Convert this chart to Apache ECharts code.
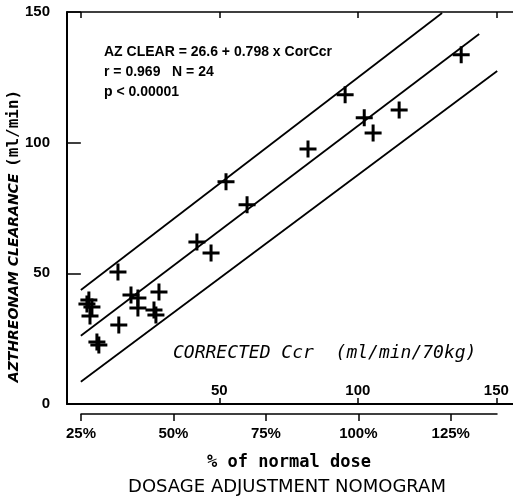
<!DOCTYPE html>
<html>
<head>
<meta charset="utf-8">
<script src="https://cdn.jsdelivr.net/npm/echarts@6/dist/echarts.min.js"></script>
<style>
html, body { margin: 0; padding: 0; background: #fff; }
#main { width: 513px; height: 497px; }
</style>
</head>
<body>
<div id="main"></div>
<script>
// corrected creatinine clearance (ml/min/70kg) vs aztreonam clearance (ml/min)
var ccr = [137.3, 95.4, 102.3, 105.5, 114.9, 82.0, 52.4, 60.0, 41.9, 47.0, 13.4, 18.1,
	20.6, 20.6, 28.2, 26.4, 27.1, 13.7, 2.9, 4.0, 3.3, 2.2, 5.8, 6.5];
var clearance = [133.6, 118.3, 109.5, 103.7, 112.5, 97.6, 85.0, 76.2, 62.0, 57.8, 50.5, 41.7,
	40.6, 36.7, 42.9, 36.0, 34.1, 30.2, 39.8, 37.1, 33.7, 38.3, 23.7, 22.6];
// regression line and its band, end points
var upperBand = [[0, 43.6], [130.4, 149.6]];
var fitLine = [[0, 26.1], [143.8, 141.6]];
var lowerBand = [[0, 8.5], [150.3, 127.4]];
var ccrLabels = [50, 100, 150];
var topTicks = [0, 50, 100, 150];
var doseTicks = [25, 50, 75, 100, 125];

var black = '#000';
var labelFont = {
	color: black,
	fontFamily: 'Liberation Sans',
	fontWeight: 'bold',
	fontSize: 15
};

var points = ccr.map(function (x, i) { return [x, clearance[i]]; });

var myChart = echarts.init(document.getElementById('main'));
var option = {
	backgroundColor: '#fff',
	animation: false,
	grid: [
		{ left: 67, right: 0, top: 12, bottom: 93, containLabel: false, outerBoundsMode: 'none' },
		{ left: 81, right: 16, top: 413, height: 1, containLabel: false, outerBoundsMode: 'none' }
	],
	xAxis: [{
		// corrected Ccr, bottom
		type: 'value',
		gridIndex: 0,
		min: -5,
		max: 156,
		splitLine: { show: false },
		axisLine: { show: true, onZero: false, lineStyle: { color: black, width: 2 } },
		axisTick: { show: true, inside: true, length: 6, customValues: ccrLabels, lineStyle: { color: black, width: 1.5 } },
		axisLabel: Object.assign({ inside: true, margin: 6, customValues: ccrLabels }, labelFont)
	}, {
		// frame top
		type: 'value',
		gridIndex: 0,
		position: 'top',
		min: -5,
		max: 156,
		splitLine: { show: false },
		axisLine: { show: true, onZero: false, lineStyle: { color: black, width: 1.5 } },
		axisTick: { show: true, inside: true, length: 6, customValues: topTicks, lineStyle: { color: black, width: 1.5 } },
		axisLabel: { show: false }
	}, {
		// % of normal dose
		type: 'value',
		gridIndex: 1,
		min: 25,
		max: 137.5,
		splitLine: { show: false },
		axisLine: { show: true, onZero: false, lineStyle: { color: black, width: 1.5 } },
		axisTick: { show: true, length: 7, customValues: doseTicks, lineStyle: { color: black, width: 1.5 } },
		axisLabel: Object.assign({ margin: 12, customValues: doseTicks, formatter: '{value}%' }, labelFont),
		name: '% of normal dose',
		nameLocation: 'middle',
		nameGap: 40,
		nameTextStyle: { color: black, fontFamily: 'DejaVu Sans Mono', fontWeight: 'bold', fontSize: 17 }
	}],
	yAxis: [{
		type: 'value',
		gridIndex: 0,
		min: 0,
		max: 150,
		interval: 50,
		splitLine: { show: false },
		axisLine: { show: true, onZero: false, lineStyle: { color: black, width: 2 } },
		axisTick: { show: true, inside: true, length: 10, lineStyle: { color: black, width: 1.5 } },
		axisLabel: Object.assign({ margin: 17 }, labelFont)
	}, {
		type: 'value',
		gridIndex: 0,
		position: 'right',
		min: 0,
		max: 150,
		interval: 50,
		splitLine: { show: false },
		axisLine: { show: false },
		axisTick: { show: true, inside: true, length: 6, lineStyle: { color: black, width: 1.5 } },
		axisLabel: { show: false }
	}, {
		type: 'value',
		gridIndex: 1,
		show: false
	}],
	graphic: [{
		type: 'text',
		x: 104, y: 52,
		style: { text: 'AZ CLEAR = 26.6 + 0.798 x CorCcr', fill: black, font: 'bold 14px "Liberation Sans"', textVerticalAlign: 'middle' }
	}, {
		type: 'text',
		x: 104, y: 72,
		style: { text: 'r = 0.969   N = 24', fill: black, font: 'bold 14px "Liberation Sans"', textVerticalAlign: 'middle' }
	}, {
		type: 'text',
		x: 104, y: 92,
		style: { text: 'p < 0.00001', fill: black, font: 'bold 14px "Liberation Sans"', textVerticalAlign: 'middle' }
	}, {
		type: 'text',
		x: 173, y: 353,
		style: { text: 'CORRECTED Ccr  (ml/min/70kg)', fill: black, font: 'italic 18px "DejaVu Sans Mono"', textVerticalAlign: 'middle' }
	}, {
		type: 'text',
		x: 14, y: 236,
		rotation: Math.PI / 2,
		style: {
			text: '{a|AZTHREONAM CLEARANCE}  {b|(ml/min)}',
			fill: black,
			textAlign: 'center',
			textVerticalAlign: 'middle',
			rich: {
				a: { fontFamily: 'DejaVu Sans', fontStyle: 'italic', fontWeight: 'bold', fontSize: 14, fill: black },
				b: { fontFamily: 'DejaVu Sans Mono', fontWeight: 'bold', fontSize: 16, fill: black }
			}
		}
	}, {
		type: 'text',
		x: 287, y: 487,
		style: { text: 'DOSAGE ADJUSTMENT NOMOGRAM', fill: black, font: '18px "DejaVu Sans"', textAlign: 'center', textVerticalAlign: 'middle' }
	}],
	series: [{
		type: 'line',
		xAxisIndex: 0, yAxisIndex: 0,
		data: upperBand,
		symbol: 'none',
		lineStyle: { color: black, width: 1.8 }
	}, {
		type: 'line',
		xAxisIndex: 0, yAxisIndex: 0,
		data: fitLine,
		symbol: 'none',
		lineStyle: { color: black, width: 1.8 }
	}, {
		type: 'line',
		xAxisIndex: 0, yAxisIndex: 0,
		data: lowerBand,
		symbol: 'none',
		lineStyle: { color: black, width: 1.8 }
	}, {
		type: 'scatter',
		xAxisIndex: 0, yAxisIndex: 0,
		data: points,
		symbol: 'path://M7,0H10V7H17V10H10V17H7V10H0V7H7Z',
		symbolSize: 17,
		itemStyle: { color: black, opacity: 1 },
		z: 5
	}]
};

myChart.setOption(option);
</script>
</body>
</html>
